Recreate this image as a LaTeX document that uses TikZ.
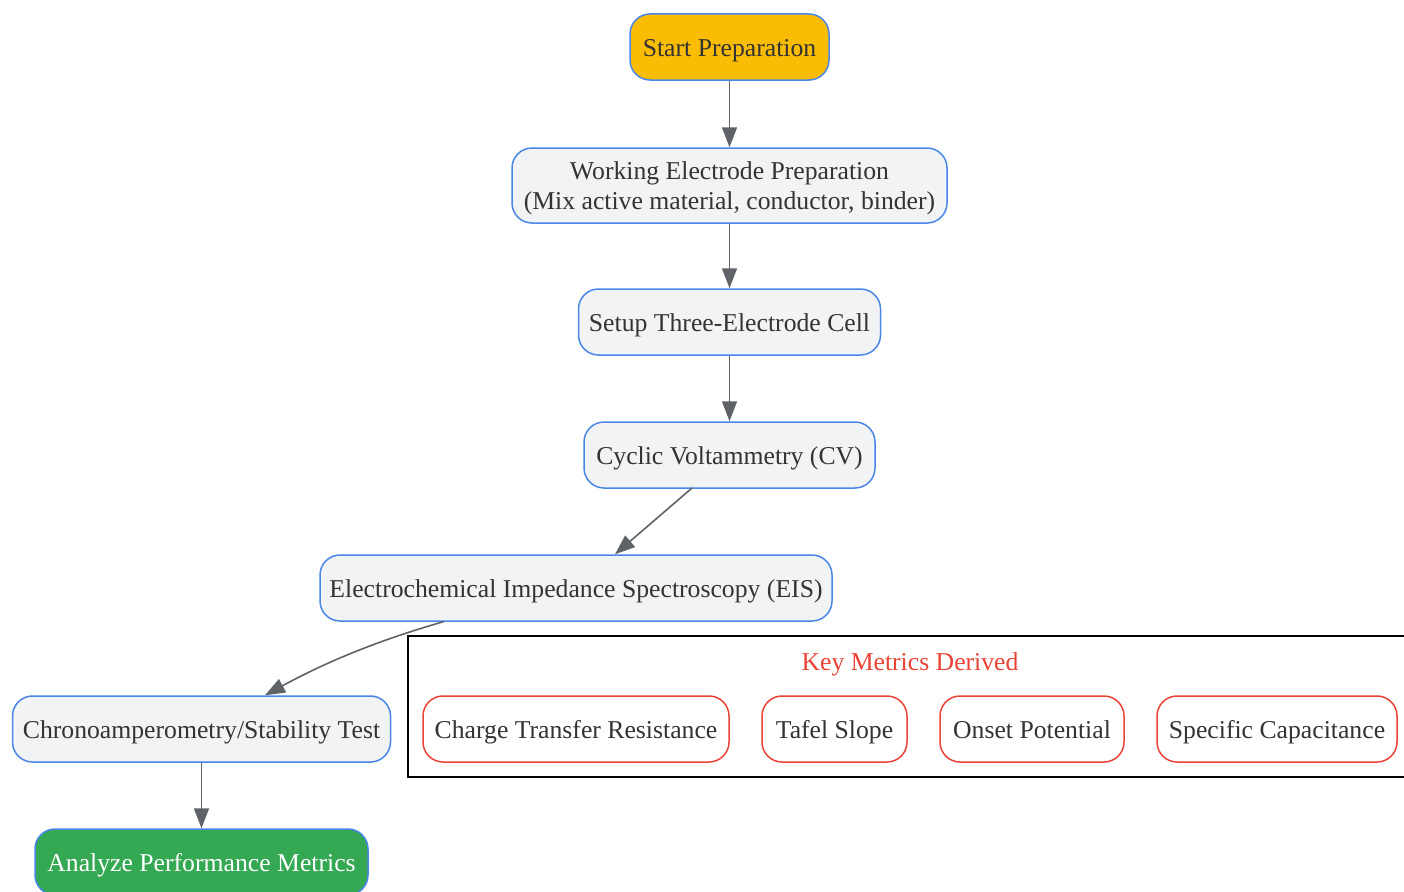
\documentclass[tikz,border=0pt]{standalone}
\usepackage{fontspec}
\setmainfont{Liberation Serif}
\usetikzlibrary{arrows.meta}
\definecolor{nodeblue}{HTML}{4A86E8}
\definecolor{nodefill}{HTML}{F1F3F4}
\definecolor{startfill}{HTML}{FBBC04}
\definecolor{endfill}{HTML}{34A853}
\definecolor{metricred}{HTML}{EA4335}
\definecolor{edgegray}{HTML}{5F6368}
\definecolor{txt}{HTML}{333333}
\tikzset{
  x=1pt,y=-1pt,
  lbl/.style={font=\fontsize{25.7}{30}\selectfont, text height=24.5pt, text depth=5.5pt},
  box/.style={draw=nodeblue, line width=1.5pt, fill=nodefill, rounded corners=20pt, inner sep=0pt, align=center, text=txt, lbl},
  metric/.style={draw=metricred, line width=1.5pt, fill=white, rounded corners=20pt, inner sep=0pt, align=center, text=txt, lbl, minimum height=66pt},
  flow/.style={draw=edgegray, line width=1.6pt, -{Triangle[length=20pt,width=15pt]}},
}
\begin{document}
\begin{tikzpicture}
\useasboundingbox (0,0) rectangle (1404,891);
\begin{scope}
\clip (0,0) rectangle (1404,891);
% cluster
\draw[line width=1.5pt] (408,636) rectangle (1420,777);
\node[text=metricred, lbl] (ctitle) at (910,661) {Key Metrics Derived};
\node[metric, minimum width=306pt] (rct) at (576,729) {Charge Transfer Resistance};
\node[metric, minimum width=145pt] (tafel) at (834.5,729) {Tafel Slope};
\node[metric, minimum width=184pt] (onset) at (1032,729) {Onset Potential};
\node[metric, minimum width=240pt] (cap) at (1277,729) {Specific Capacitance};
% flow
\node[box, fill=startfill, minimum width=199pt, minimum height=66pt] (start) at (729.5,47) {Start Preparation};
\node[box, minimum width=435pt, minimum height=75pt, text height=, text depth=0pt, font=\fontsize{25.7}{30}\selectfont] (we) at (729.5,185.5) {Working Electrode Preparation\\(Mix active material, conductor, binder)};
\node[box, minimum width=302pt, minimum height=66pt] (cell) at (729.5,322) {Setup Three-Electrode Cell};
\node[box, minimum width=291pt, minimum height=66pt] (cv) at (729.5,455) {Cyclic Voltammetry (CV)};
\node[box, minimum width=512pt, minimum height=66pt] (eis) at (576,588) {Electrochemical Impedance Spectroscopy (EIS)};
\node[box, minimum width=378pt, minimum height=66pt] (chrono) at (201.5,729) {Chronoamperometry/Stability Test};
\node[box, fill=endfill, text=white, minimum width=333pt, minimum height=66pt] (ana) at (201.5,862) {Analyze Performance Metrics};
\draw[flow] (start) -- (we);
\draw[flow] (we) -- (cell);
\draw[flow] (cell) -- (cv);
\draw[flow] (692,488) -- (eis.north -| 615,0);
\draw[flow] (444,621.5) .. controls (380,640) and (330,660) .. (chrono.north -| 265,0);
\draw[flow] (chrono) -- (ana);
\end{scope}
\end{tikzpicture}
\end{document}
